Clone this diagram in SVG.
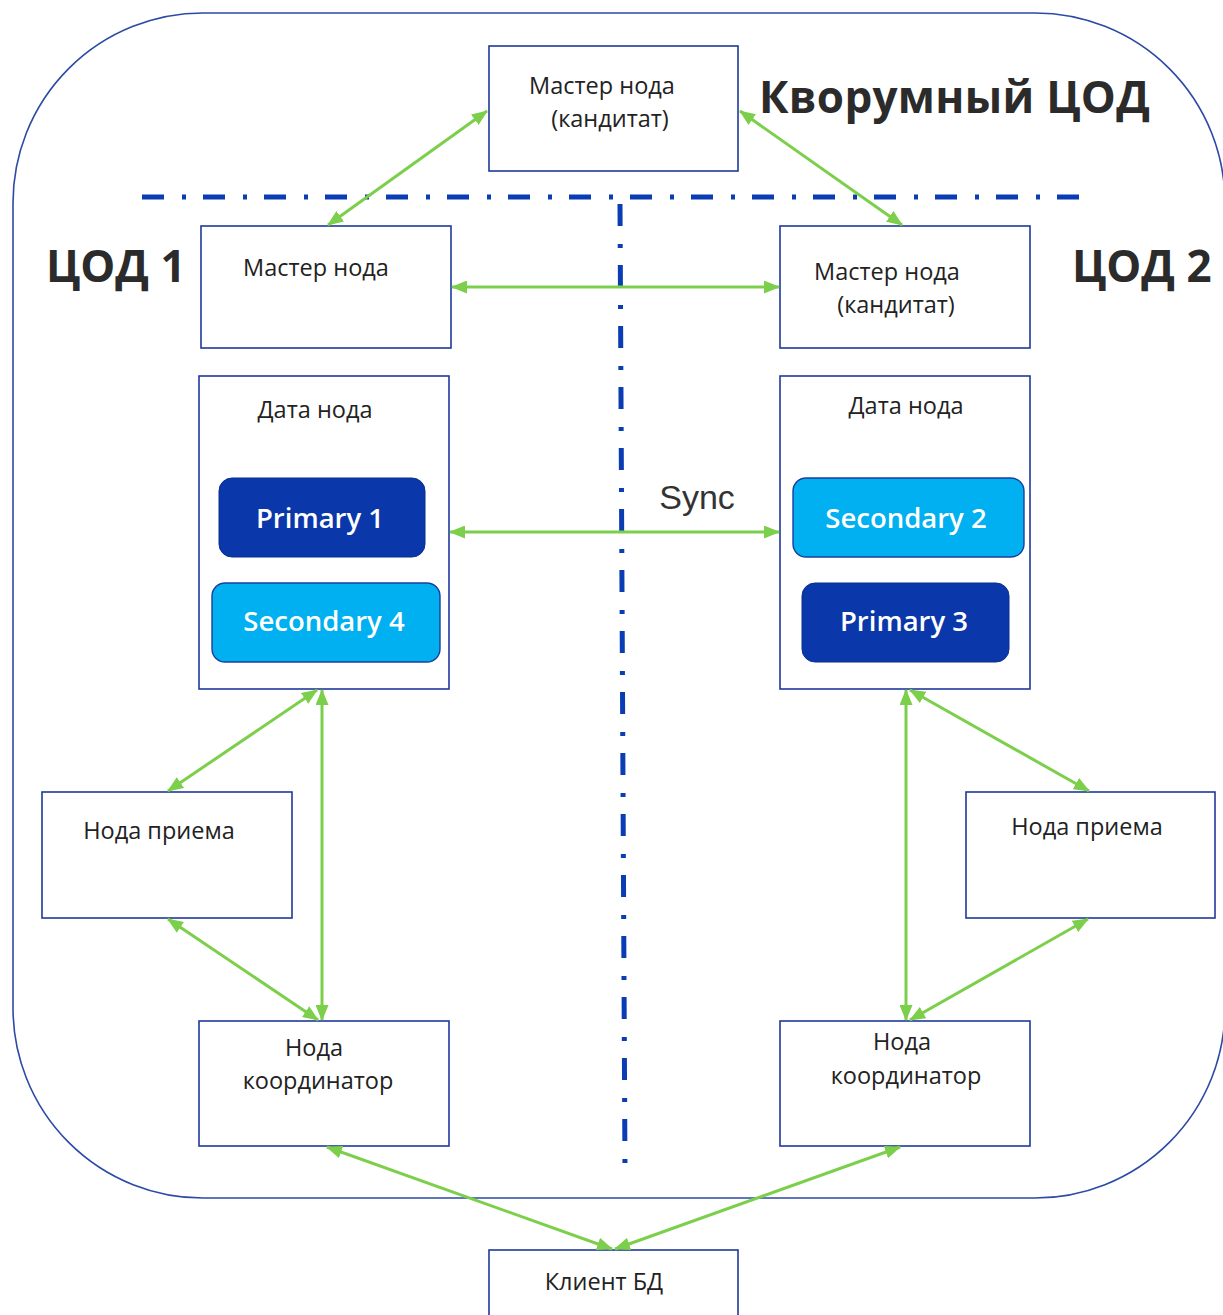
<svg xmlns="http://www.w3.org/2000/svg" width="1223" height="1315" viewBox="0 0 1223 1315">
  <style>
    .box { fill: #ffffff; stroke: #1f3a9c; stroke-width: 1.6; }
    .lbl { font-family: "Open Sans", "Noto Sans", sans-serif; font-size: 23.5px; fill: #222222; text-anchor: middle; }
    .title { font-family: "Open Sans", "Noto Sans", sans-serif; font-size: 44px; font-weight: 700; fill: #2b2b2b; }
    .pill-text { font-family: "Open Sans", "Noto Sans", sans-serif; font-size: 27.5px; font-weight: 600; fill: #ffffff; text-anchor: middle; }
    .primary { fill: #0a37aa; stroke: #0a2f90; stroke-width: 1; }
    .secondary { fill: #00b0f0; stroke: #1a3f9c; stroke-width: 1.4; }
    .divider { fill: none; stroke: #0a3cb4; stroke-width: 5; stroke-dasharray: 22 18 4 17; }
    .link { fill: none; stroke: #7ccf4a; stroke-width: 3; marker-start: url(#head); marker-end: url(#head); }
  </style>
  <defs>
    <marker id="head" markerUnits="userSpaceOnUse" viewBox="0 0 16 13" markerWidth="16" markerHeight="13" refX="15" refY="6.5" orient="auto-start-reverse">
      <path d="M0,0 L16,6.5 L0,13 z" fill="#7ccf4a"/>
    </marker>
  </defs>

  <rect width="1223" height="1315" fill="#ffffff"/>

  <!-- quorum data-centre boundary -->
  <rect id="quorum-boundary" x="13" y="13" width="1212" height="1185" rx="190" ry="190" fill="none" stroke="#2c4aa6" stroke-width="1.6"/>

  <!-- dash-dot separators between data centres -->
  <g id="separators">
    <line class="divider" x1="142" y1="197" x2="1090" y2="197"/>
    <line class="divider" x1="620" y1="204" x2="625" y2="1172"/>
  </g>

  <!-- titles -->
  <g id="titles">
    <text class="title" x="759" y="113" font-size="45" letter-spacing="0.3">Кворумный ЦОД</text>
    <text class="title" x="46" y="282">ЦОД 1</text>
    <text class="title" x="1072" y="282">ЦОД 2</text>
  </g>

  <g id="quorum-master">
    <rect class="box" x="489" y="46" width="249" height="125"/>
    <text class="lbl" x="602" y="94">Мастер нода</text>
    <text class="lbl" x="610" y="127">(кандитат)</text>
  </g>

  <g id="dc1-master">
    <rect class="box" x="201" y="226" width="250" height="122"/>
    <text class="lbl" x="316" y="276">Мастер нода</text>
  </g>

  <g id="dc2-master">
    <rect class="box" x="780" y="226" width="250" height="122"/>
    <text class="lbl" x="887" y="280">Мастер нода</text>
    <text class="lbl" x="896" y="313">(кандитат)</text>
  </g>

  <g id="dc1-data">
    <rect class="box" x="199" y="376" width="250" height="313"/>
    <text class="lbl" x="315" y="418">Дата нода</text>
    <rect class="primary" x="219" y="478" width="206" height="79" rx="13"/>
    <text class="pill-text" x="320" y="528">Primary 1</text>
    <rect class="secondary" x="212" y="583" width="228" height="79" rx="13"/>
    <text class="pill-text" x="324" y="631">Secondary 4</text>
  </g>

  <g id="dc2-data">
    <rect class="box" x="780" y="376" width="250" height="313"/>
    <text class="lbl" x="906" y="414">Дата нода</text>
    <rect class="secondary" x="793" y="478" width="231" height="79" rx="13"/>
    <text class="pill-text" x="906" y="528">Secondary 2</text>
    <rect class="primary" x="802" y="583" width="207" height="79" rx="13"/>
    <text class="pill-text" x="904" y="631">Primary 3</text>
  </g>

  <g id="dc1-ingest">
    <rect class="box" x="42" y="792" width="250" height="126"/>
    <text class="lbl" x="159" y="839">Нода приема</text>
  </g>

  <g id="dc2-ingest">
    <rect class="box" x="966" y="792" width="249" height="126"/>
    <text class="lbl" x="1087" y="835">Нода приема</text>
  </g>

  <g id="dc1-coordinator">
    <rect class="box" x="199" y="1021" width="250" height="125"/>
    <text class="lbl" x="314" y="1056">Нода</text>
    <text class="lbl" x="318" y="1089">координатор</text>
  </g>

  <g id="dc2-coordinator">
    <rect class="box" x="780" y="1021" width="250" height="125"/>
    <text class="lbl" x="902" y="1050">Нода</text>
    <text class="lbl" x="906" y="1084">координатор</text>
  </g>

  <g id="db-client">
    <rect class="box" x="489" y="1250" width="249" height="75"/>
    <text class="lbl" x="604" y="1290">Клиент БД</text>
  </g>

  <!-- connectors -->
  <g id="connectors">
    <line class="link" x1="487" y1="111" x2="328" y2="225"/>
    <line class="link" x1="740" y1="111" x2="902" y2="225"/>
    <line class="link" x1="452" y1="287" x2="779" y2="287"/>
    <text x="697" y="509" font-family="Liberation Sans, Arial, sans-serif" font-size="34" fill="#333333" text-anchor="middle">Sync</text>
    <line class="link" x1="450" y1="532" x2="779" y2="532"/>
    <line class="link" x1="317" y1="690" x2="168" y2="791"/>
    <line class="link" x1="322" y1="690" x2="322" y2="1020"/>
    <line class="link" x1="168" y1="919" x2="318" y2="1020"/>
    <line class="link" x1="906" y1="690" x2="906" y2="1020"/>
    <line class="link" x1="910" y1="690" x2="1089" y2="791"/>
    <line class="link" x1="1088" y1="919" x2="910" y2="1020"/>
    <line class="link" x1="327" y1="1147" x2="612" y2="1249"/>
    <line class="link" x1="900" y1="1147" x2="615" y2="1249"/>
  </g>
</svg>
